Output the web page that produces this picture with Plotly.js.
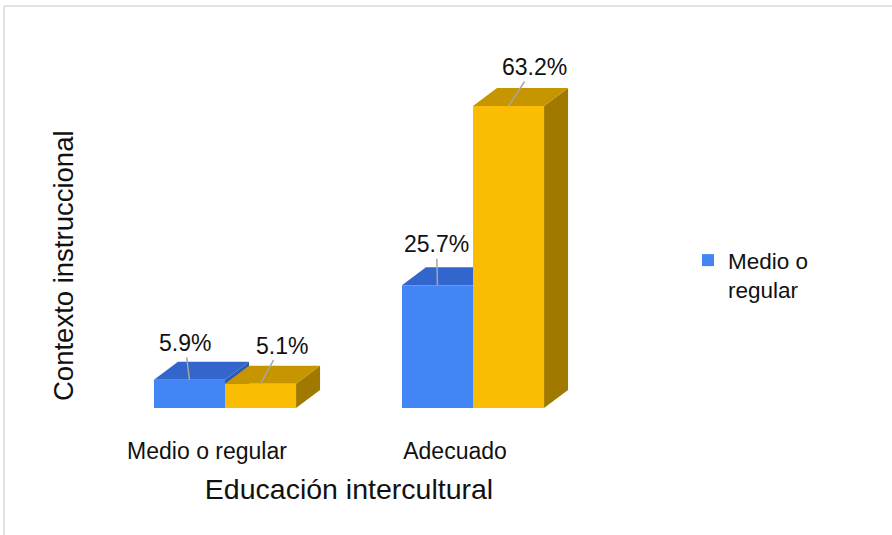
<!DOCTYPE html>
<html>
<head>
<meta charset="utf-8">
<script src="https://cdn.plot.ly/plotly-3.0.1.min.js"></script>
<style>html,body{margin:0;padding:0;background:#fff;}#chart{width:892px;height:535px;}</style>
</head>
<body>
<div id="chart"></div>
<script>
var categories = ['Medio o regular', 'Adecuado'];
var seriesMedioName = 'Medio o<br>regular';
var seriesAdecuadoName = 'Adecuado';
var medioValues = [5.9, 25.7];
var adecuadoValues = [5.1, 63.2];
var medioLabels = ['5.9%', '25.7%'];
var adecuadoLabels = ['5.1%', '63.2%'];

var W = 892, H = 535;
var M = {l: 101, r: 295, t: 74, b: 127};
var yMax = 69.9;
var bargap = 0.427;
var plotW = W - M.l - M.r, plotH = H - M.t - M.b;
var pxPerCat = plotW / 2;
var pxPerY = plotH / yMax;
var depthX = 24 / pxPerCat;
var depthY = 18 / pxPerY;
var barW = (1 - bargap) / 2;

var xIdx = categories.map(function (c, i) { return i; });

var colors = {
  medio: {front: '#4286f5', top: '#3366cc', side: '#2c59b3'},
  adec: {front: '#fbbc04', top: '#c69500', side: '#a07a00'}
};

function pathOf(pts) {
  return 'M' + pts.map(function (p) { return p[0] + ',' + p[1]; }).join(' L') + ' Z';
}

var shapes = [];
function addBox(x0, v, col) {
  var x1 = x0 + barW;
  shapes.push({type: 'path', xref: 'x', yref: 'y', layer: 'below',
    path: pathOf([[x1, 0], [x1, v], [x1 + depthX, v + depthY], [x1 + depthX, depthY]]),
    fillcolor: col.side, line: {width: 0}});
  shapes.push({type: 'path', xref: 'x', yref: 'y', layer: 'below',
    path: pathOf([[x0, v], [x1, v], [x1 + depthX, v + depthY], [x0 + depthX, v + depthY]]),
    fillcolor: col.top, line: {width: 0}});
}
xIdx.forEach(function (i) {
  addBox(i - barW, medioValues[i], colors.medio);
});
xIdx.forEach(function (i) {
  addBox(i, adecuadoValues[i], colors.adec);
});

// frame lines (paper coords)
function px2paperX(px) { return (px - M.l) / plotW; }
function px2paperY(py) { return (H - M.b - py) / plotH; }
shapes.push({type: 'line', xref: 'paper', yref: 'paper', layer: 'above',
  x0: px2paperX(4), x1: px2paperX(4), y0: px2paperY(6), y1: px2paperY(536),
  line: {color: '#d9d9d9', width: 1.5}});
shapes.push({type: 'line', xref: 'paper', yref: 'paper', layer: 'above',
  x0: px2paperX(4), x1: px2paperX(893), y0: px2paperY(6), y1: px2paperY(6),
  line: {color: '#d9d9d9', width: 1.5}});

var labelOffsets = {
  medio: [[-4.5, -37], [-1, -41]],
  adec: [[21, -38], [25.5, -39]]
};
var annotations = [];
xIdx.forEach(function (i) {
  annotations.push({x: i - barW / 2, y: medioValues[i], xref: 'x', yref: 'y',
    text: medioLabels[i], showarrow: true, arrowhead: 0, arrowwidth: 1.5,
    arrowcolor: '#a6a6a6', standoff: 0, startstandoff: 0,
    ax: labelOffsets.medio[i][0], ay: labelOffsets.medio[i][1],
    font: {family: 'Liberation Sans, Arial, sans-serif', size: 23, color: '#111'}});
  annotations.push({x: i + barW / 2, y: adecuadoValues[i], xref: 'x', yref: 'y',
    text: adecuadoLabels[i], showarrow: true, arrowhead: 0, arrowwidth: 1.5,
    arrowcolor: '#a6a6a6', standoff: 0, startstandoff: 0,
    ax: labelOffsets.adec[i][0], ay: labelOffsets.adec[i][1],
    font: {family: 'Liberation Sans, Arial, sans-serif', size: 23, color: '#111'}});
});
annotations.push({xref: 'paper', yref: 'paper', x: px2paperX(63), y: px2paperY(266),
  text: 'Contexto instruccional', textangle: -90, showarrow: false,
  xanchor: 'center', yanchor: 'middle',
  font: {family: 'Liberation Sans, Arial, sans-serif', size: 27.5, color: '#111'}});

var traces = [
  {type: 'bar', x: xIdx, y: medioValues, name: seriesMedioName,
   marker: {color: colors.medio.front, line: {width: 0}}, showlegend: true, hoverinfo: 'y'},
  {type: 'bar', x: xIdx, y: adecuadoValues, name: seriesAdecuadoName,
   marker: {color: colors.adec.front, line: {width: 0}}, showlegend: false, hoverinfo: 'y'}
];

var layout = {
  width: W, height: H,
  margin: M,
  paper_bgcolor: '#ffffff',
  plot_bgcolor: 'rgba(0,0,0,0)',
  barmode: 'group', bargap: bargap, bargroupgap: 0,
  font: {family: 'Liberation Sans, Arial, sans-serif', color: '#111'},
  xaxis: {
    range: [-0.5, 1.5], tickvals: xIdx, ticktext: categories,
    showgrid: false, zeroline: false, showline: false, ticks: '',
    ticklabelshift: -18, ticklabelstandoff: 27,
    tickfont: {size: 23, color: '#111'},
    automargin: false,
    title: {text: 'Educación intercultural', font: {size: 28.5, color: '#111'}, standoff: 16}
  },
  yaxis: {
    range: [0, yMax], showgrid: false, zeroline: false, showline: false,
    showticklabels: false, ticks: '', automargin: false
  },
  legend: {
    x: px2paperX(688), y: px2paperY(239), xanchor: 'left', yanchor: 'top',
    valign: 'top', font: {size: 22.5, color: '#111'}, bgcolor: 'rgba(0,0,0,0)'
  },
  shapes: shapes,
  annotations: annotations,
  showlegend: true
};

Plotly.newPlot('chart', traces, layout, {displayModeBar: false, staticPlot: true});
</script>
</body>
</html>
